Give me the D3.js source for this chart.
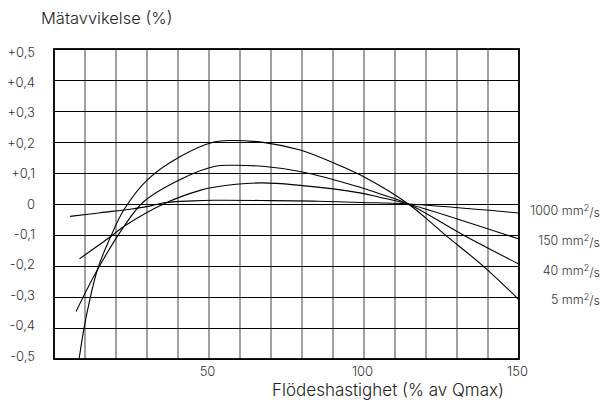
<!DOCTYPE html>
<html><head><meta charset="utf-8">
<script src="https://cdn.jsdelivr.net/npm/d3@7"></script>
<style>
html,body{margin:0;padding:0;background:#fff;}
svg{display:block;font-family:Inter,"Liberation Sans",Arial,sans-serif;font-weight:300;}
</style></head>
<body>
<svg id="chart" width="604" height="403"></svg>
<script>
// ---- data ----
const yTicks = [0.5, 0.4, 0.3, 0.2, 0.1, 0, -0.1, -0.2, -0.3, -0.4, -0.5];
const yTickLabels = ["+0,5", "+0,4", "+0,3", "+0,2", "+0,1", "0", "-0,1", "-0,2", "-0,3", "-0,4", "-0,5"];
const xGrid = [0, 10, 20, 30, 40, 50, 60, 70, 80, 90, 100, 110, 120, 130, 140, 150];
const xTickValues = [50, 100, 150];
const xTickLabels = ["50", "100", "150"];
const seriesNames = ["1000", "150", "40", "5"];

const x1000 = [5.2, 15, 25, 31.2, 35.5, 45, 51.6, 70, 85, 98.7, 114.3, 150];
const y1000 = [-0.04, -0.028, -0.016, -0.006, 0.004, 0.01, 0.012, 0.011, 0.009, 0.005, 0, -0.029];

const x150 = [8.2, 18.3, 22.6, 35.5, 47.1, 51.6, 66.5, 79.4, 98.7, 105, 114.3, 150];
const y150 = [-0.177, -0.105, -0.072, 0.001, 0.044, 0.054, 0.068, 0.06, 0.036, 0.022, 0, -0.113];

const x40 = [7.1, 14, 22.6, 29, 40.9, 51.6, 57, 68, 79.4, 98.7, 105, 114.3, 132, 150];
const y40 = [-0.347, -0.212, -0.072, 0.008, 0.08, 0.121, 0.125, 0.121, 0.105, 0.054, 0.033, 0, -0.1, -0.194];

const x5 = [8.1, 10.2, 14, 18.3, 22.6, 30.1, 40.9, 51.6, 57, 68, 79.4, 90.1, 98.7, 114.3, 126, 139, 150];
const y5 = [-0.5, -0.373, -0.212, -0.105, -0.018, 0.078, 0.154, 0.2, 0.205, 0.198, 0.174, 0.133, 0.094, 0, -0.098, -0.205, -0.309];

const labelY = [-0.022, -0.119, -0.216, -0.308];

// ---- layout ----
const svg = d3.select("#chart");
const L = 54, R = 519, T = 49, B = 359;
const x = d3.scaleLinear().domain([0, 150]).range([L, R]);
const y = d3.scaleLinear().domain([-0.5, 0.5]).range([B, T]);
const yLab = d3.scaleLinear().domain([-0.5, 0.5]).range([356, 52]);

// vertical grid
svg.append("g").selectAll("line").data(xGrid).join("line")
  .attr("x1", d => x(d)).attr("x2", d => x(d))
  .attr("y1", T).attr("y2", B)
  .attr("stroke", "#6e6e6e").attr("stroke-width", 1.3);

// horizontal grid
svg.append("g").selectAll("line").data(yTicks).join("line")
  .attr("x1", L).attr("x2", R)
  .attr("y1", d => Math.round(y(d)) + 0.5).attr("y2", d => Math.round(y(d)) + 0.5)
  .attr("stroke", "#000").attr("stroke-width", 1);

// frame
svg.append("rect").attr("x", L).attr("y", T).attr("width", R - L).attr("height", B - T)
  .attr("fill", "none").attr("stroke", "#000").attr("stroke-width", 1.8);

// curves
const line = d3.line().x(d => x(d[0])).y(d => y(d[1])).curve(d3.curveCatmullRom.alpha(0.5));
const series = [[x1000, y1000], [x150, y150], [x40, y40], [x5, y5]];
svg.append("g").selectAll("path").data(series).join("path")
  .attr("d", s => line(s[0].map((v, i) => [v, s[1][i]])))
  .attr("fill", "none").attr("stroke", "#000").attr("stroke-width", 1.1);

// y tick labels
svg.append("g").selectAll("text").data(yTicks).join("text")
  .attr("x", 35).attr("y", d => yLab(d)).attr("dy", "0.35em")
  .attr("text-anchor", "end").attr("font-size", 13).attr("fill", "#333")
  .text((d, i) => yTickLabels[i]);

// x tick labels
svg.append("g").selectAll("text").data(xTickValues).join("text")
  .attr("x", d => x(d) - 1.5).attr("y", 371).attr("dy", "0.35em")
  .attr("text-anchor", "middle").attr("font-size", 13).attr("fill", "#333")
  .text((d, i) => xTickLabels[i]);

// series labels
const lab = svg.append("g").selectAll("text").data(seriesNames).join("text")
  .attr("x", 600).attr("y", (d, i) => y(labelY[i])).attr("dy", "0.35em")
  .attr("text-anchor", "end").attr("font-size", 12.5).attr("fill", "#333");
lab.append("tspan").text(d => d + " mm");
lab.append("tspan").attr("font-size", 9).attr("dy", "-0.45em").text("2");
lab.append("tspan").attr("dy", "0.45em").text("/s");

// titles
svg.append("text").attr("x", 41).attr("y", 24).attr("font-size", 16.5).attr("fill", "#222")
  .text("Mätavvikelse (%)");
svg.append("text").attr("x", 388).attr("y", 396).attr("text-anchor", "middle")
  .attr("font-size", 17).attr("fill", "#222")
  .text("Flödeshastighet (% av Qmax)");
</script>
</body></html>
